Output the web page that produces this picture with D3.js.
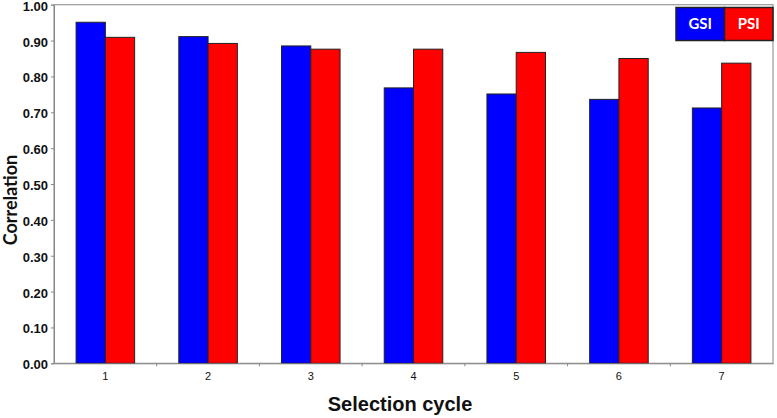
<!DOCTYPE html>
<html><head><meta charset="utf-8">
<script src="https://cdn.jsdelivr.net/npm/d3@7/dist/d3.min.js"></script>
<style>body{margin:0;background:#fff}</style>
</head><body>
<script>
const categories = ["1","2","3","4","5","6","7"];
const seriesNames = ["GSI","PSI"];
const gsi = [0.951, 0.911, 0.885, 0.768, 0.751, 0.736, 0.712];
const psi = [0.909, 0.892, 0.876, 0.876, 0.867, 0.850, 0.837];
const yTicks = [0,0.1,0.2,0.3,0.4,0.5,0.6,0.7,0.8,0.9,1.0];
const colors = ["#0000ff","#ff0000"];

const W=777,H=418;
const m={l:54,r:4,t:4.7,b:54.7};
const svg=d3.select("body").append("svg").attr("width",W).attr("height",H);
const x0=d3.scaleBand().domain(categories).range([m.l,W-m.r]).paddingInner(0.43).paddingOuter(0.215);
const x1=d3.scaleBand().domain(seriesNames).range([0,x0.bandwidth()]);
const y=d3.scaleLinear().domain([0,1]).range([H-m.b,m.t]);

// frame
svg.append("rect").attr("x",m.l).attr("y",m.t).attr("width",W-m.r-m.l).attr("height",H-m.b-m.t)
  .attr("fill","none").attr("stroke","#999").attr("stroke-width",1.2);

const data=categories.map((c,i)=>({c,vals:[gsi[i],psi[i]]}));
const g=svg.append("g");
data.forEach(d=>{
  d.vals.forEach((v,j)=>{
    g.append("rect").attr("x",x0(d.c)+x1(seriesNames[j])).attr("y",y(v))
      .attr("width",x1.bandwidth()).attr("height",y(0)-y(v))
      .attr("fill",colors[j]).attr("stroke","#222").attr("stroke-width",1);
  });
});

// y axis
const ya=svg.append("g").attr("transform",`translate(${m.l},0)`)
  .call(d3.axisLeft(y).tickValues(yTicks).tickFormat(d3.format(".2f")).tickSizeOuter(0).tickSize(3).tickPadding(3));
ya.select(".domain").attr("stroke","#888");
ya.selectAll(".tick line").attr("stroke","#888");
ya.selectAll("text").attr("dy","0.42em").attr("font-family","Liberation Sans, Arial, sans-serif").attr("font-weight","bold").attr("font-size","13px").attr("fill","#111");

// x axis
const xa=svg.append("g").attr("transform",`translate(0,${H-m.b})`)
  .call(d3.axisBottom(x0).tickSize(0).tickPadding(9));
xa.select(".domain").attr("stroke","#888");
xa.selectAll("text").attr("font-family","Liberation Sans, Arial, sans-serif").attr("font-size","11px").attr("fill","#111");
// boundary ticks
for(let i=1;i<categories.length;i++){
  const bx=(x0(categories[i-1])+x0.bandwidth()/2+x0(categories[i])+x0.bandwidth()/2)/2;
  svg.append("line").attr("x1",bx).attr("x2",bx).attr("y1",H-m.b).attr("y2",H-m.b+3).attr("stroke","#888");
}

// titles
svg.append("text").attr("transform",`translate(17,200) rotate(-90)`).attr("text-anchor","middle")
  .attr("font-family","Lato, sans-serif").attr("font-weight","bold").attr("font-size","18px").attr("fill","#111").text("Correlation");
svg.append("text").attr("x",400).attr("y",411).attr("text-anchor","middle")
  .attr("font-family","Liberation Sans, Arial, sans-serif").attr("font-weight","bold").attr("font-size","20px").attr("fill","#111").text("Selection cycle");

// legend
const lx=676,ly=7.5,lw=48.5,lh=33;
seriesNames.forEach((s,j)=>{
  svg.append("rect").attr("x",lx+j*lw).attr("y",ly).attr("width",lw).attr("height",lh)
    .attr("fill",colors[j]).attr("stroke","#222").attr("stroke-width",1.5);
  svg.append("text").attr("x",lx+j*lw+lw/2).attr("y",ly+lh/2+5).attr("text-anchor","middle")
    .attr("font-family","Lato, sans-serif").attr("font-weight","bold").attr("font-size","15px").attr("fill","#fff").text(s);
});
</script>
</body></html>
